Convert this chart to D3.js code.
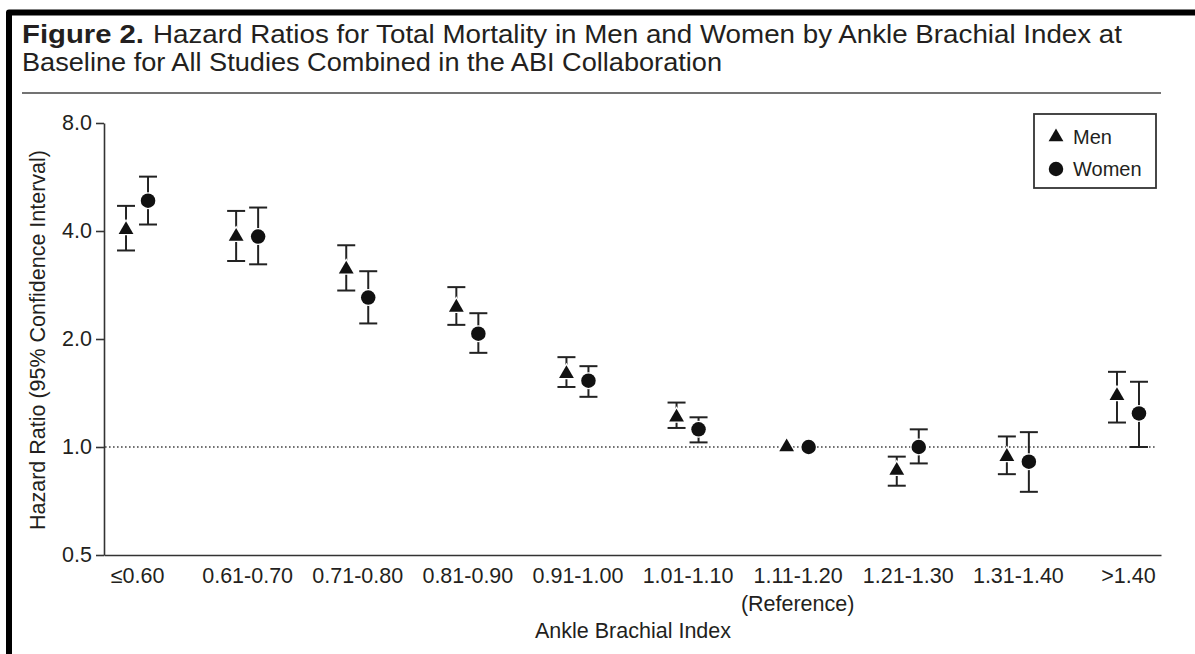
<!DOCTYPE html>
<html>
<head>
<meta charset="utf-8">
<script src="https://cdn.jsdelivr.net/npm/d3@7"></script>
<style>
  html, body { margin: 0; padding: 0; background: #fff; }
  svg { display: block; }
</style>
</head>
<body>
<svg id="chart" width="1195" height="654"></svg>
<script>
// ABI categories and hazard ratios
const categories = ["≤0.60", "0.61-0.70", "0.71-0.80", "0.81-0.90", "0.91-1.00",
                    "1.01-1.10", "1.11-1.20", "1.21-1.30", "1.31-1.40", ">1.40"];
const menHR   = [4.03, 3.86, 3.13, 2.45, 1.60, 1.21, 1.00, 0.86, 0.94, 1.39];
const menLo   = [3.53, 3.30, 2.73, 2.19, 1.47, 1.13, null, 0.78, 0.84, 1.17];
const menHi   = [4.70, 4.55, 3.65, 2.79, 1.78, 1.33, null, 0.94, 1.07, 1.62];
const womenHR = [4.86, 3.86, 2.61, 2.07, 1.53, 1.12, 1.00, 1.00, 0.91, 1.24];
const womenLo = [4.17, 3.23, 2.21, 1.83, 1.38, 1.03, null, 0.90, 0.75, 1.00];
const womenHi = [5.67, 4.65, 3.09, 2.36, 1.68, 1.21, null, 1.12, 1.10, 1.52];
const yTicks  = [0.5, 1, 2, 4, 8];
const seriesNames = ["Men", "Women"];

const ink = "#231f20";
const labelFont = "'Liberation Sans', Arial, sans-serif";
const titleFont = "'Liberation Sans', Arial, sans-serif";
const labelSize = 21.5;

const svg = d3.select("#chart");

// frame (left + top thick border)
svg.append("path")
    .attr("d", "M9,654 V12.5 H1195")
    .attr("fill", "none")
    .attr("stroke", "#000")
    .attr("stroke-width", 6)
    .attr("stroke-linejoin", "round");

// title: squeezed to the reference widths
svg.append("text")
    .attr("x", 22).attr("y", 43)
    .attr("font-family", titleFont).attr("font-size", 25)
    .attr("font-weight", "bold").attr("fill", ink)
    .attr("textLength", 122)
    .attr("lengthAdjust", "spacingAndGlyphs")
    .text("Figure 2.");
svg.append("text")
    .attr("x", 153).attr("y", 43)
    .attr("font-family", titleFont).attr("font-size", 25).attr("fill", ink)
    .attr("textLength", 1122 - 153)
    .attr("lengthAdjust", "spacingAndGlyphs")
    .text("Hazard Ratios for Total Mortality in Men and Women by Ankle Brachial Index at");
svg.append("text")
    .attr("x", 22).attr("y", 71)
    .attr("font-family", titleFont).attr("font-size", 25).attr("fill", ink)
    .attr("textLength", 722 - 22)
    .attr("lengthAdjust", "spacingAndGlyphs")
    .text("Baseline for All Studies Combined in the ABI Collaboration");

// separator under the title
svg.append("line")
    .attr("x1", 22).attr("x2", 1161)
    .attr("y1", 93).attr("y2", 93)
    .attr("stroke", "#444")
    .attr("stroke-width", 1.6);

// scales
const x = d3.scalePoint().domain(categories).range([104, 1161]).padding(0.3);
const y = d3.scaleLog().base(2).domain([0.5, 8]).range([555, 123]);
const offset = { Men: -11, Women: 11 };

// y axis
const yAxis = svg.append("g")
    .attr("transform", "translate(104,0)")
    .call(d3.axisLeft(y).tickValues(yTicks).tickFormat(d3.format(".1f"))
        .tickSize(8).tickSizeOuter(0).tickPadding(4));
yAxis.select(".domain").attr("stroke", "#333").attr("stroke-width", 1.6);
yAxis.selectAll(".tick line").attr("stroke", "#333").attr("stroke-width", 1.6);
yAxis.selectAll(".tick text")
    .attr("font-family", labelFont).attr("font-size", labelSize).attr("fill", ink);

// x axis
const xAxis = svg.append("g")
    .attr("transform", "translate(0,555)")
    .call(d3.axisBottom(x).tickSize(0).tickSizeOuter(0).tickPadding(13));
xAxis.select(".domain").attr("stroke", "#333").attr("stroke-width", 1.6);
xAxis.selectAll(".tick text")
    .attr("font-family", labelFont).attr("font-size", labelSize).attr("fill", ink);

svg.append("text")
    .attr("x", x("1.11-1.20")).attr("y", 611)
    .attr("text-anchor", "middle")
    .attr("font-family", labelFont).attr("font-size", labelSize).attr("fill", ink)
    .text("(Reference)");

// axis titles
svg.append("text")
    .attr("x", 633).attr("y", 638)
    .attr("text-anchor", "middle")
    .attr("font-family", labelFont).attr("font-size", labelSize).attr("fill", ink)
    .text("Ankle Brachial Index");
svg.append("text")
    .attr("transform", "translate(45,340) rotate(-90)")
    .attr("text-anchor", "middle")
    .attr("font-family", labelFont).attr("font-size", labelSize).attr("fill", ink)
    .text("Hazard Ratio (95% Confidence Interval)");

// reference line at HR = 1
svg.append("line")
    .attr("x1", 105).attr("x2", 1157)
    .attr("y1", y(1)).attr("y2", y(1))
    .attr("stroke", "#444")
    .attr("stroke-width", 1.3)
    .attr("stroke-dasharray", "1.6,2.4");

// build rows
const rows = [];
categories.forEach((c, i) => {
    rows.push({ cat: c, s: "Men", hr: menHR[i], lo: menLo[i], hi: menHi[i] });
    rows.push({ cat: c, s: "Women", hr: womenHR[i], lo: womenLo[i], hi: womenHi[i] });
});

const capW = 9;
const bars = svg.append("g")
    .attr("stroke", "#222")
    .attr("stroke-width", 2)
    .selectAll("g")
    .data(rows.filter(d => d.lo != null))
    .join("g")
    .attr("transform", d => `translate(${x(d.cat) + offset[d.s]},0)`);
bars.append("line")
    .attr("y1", d => y(d.lo)).attr("y2", d => y(d.hi));
bars.append("line")
    .attr("x1", -capW).attr("x2", capW)
    .attr("y1", d => y(d.lo)).attr("y2", d => y(d.lo));
bars.append("line")
    .attr("x1", -capW).attr("x2", capW)
    .attr("y1", d => y(d.hi)).attr("y2", d => y(d.hi));

const symTri = d3.symbol().type(d3.symbolTriangle).size(95);
const symCirc = d3.symbol().type(d3.symbolCircle).size(165);

svg.append("g")
    .selectAll("path")
    .data(rows)
    .join("path")
    .attr("transform", d => `translate(${x(d.cat) + offset[d.s]},${y(d.hr)})`)
    .attr("d", d => d.s === "Men" ? symTri() : symCirc())
    .attr("fill", "#111")
    .attr("stroke", "#fff")
    .attr("stroke-width", 2.5)
    .attr("paint-order", "stroke");

// legend
const legend = svg.append("g");
legend.append("rect")
    .attr("x", 1034).attr("y", 114)
    .attr("width", 122).attr("height", 74)
    .attr("fill", "#fff")
    .attr("stroke", "#333")
    .attr("stroke-width", 1.8);
seriesNames.forEach((name, i) => {
    const cy = 137 + i * 32;
    legend.append("path")
        .attr("transform", `translate(1056,${cy})`)
        .attr("d", name === "Men" ? symTri() : symCirc())
        .attr("fill", "#111");
    legend.append("text")
        .attr("x", 1073).attr("y", cy + 7)
        .attr("font-family", labelFont).attr("font-size", 20).attr("fill", ink)
        .text(name);
});
</script>
</body>
</html>
